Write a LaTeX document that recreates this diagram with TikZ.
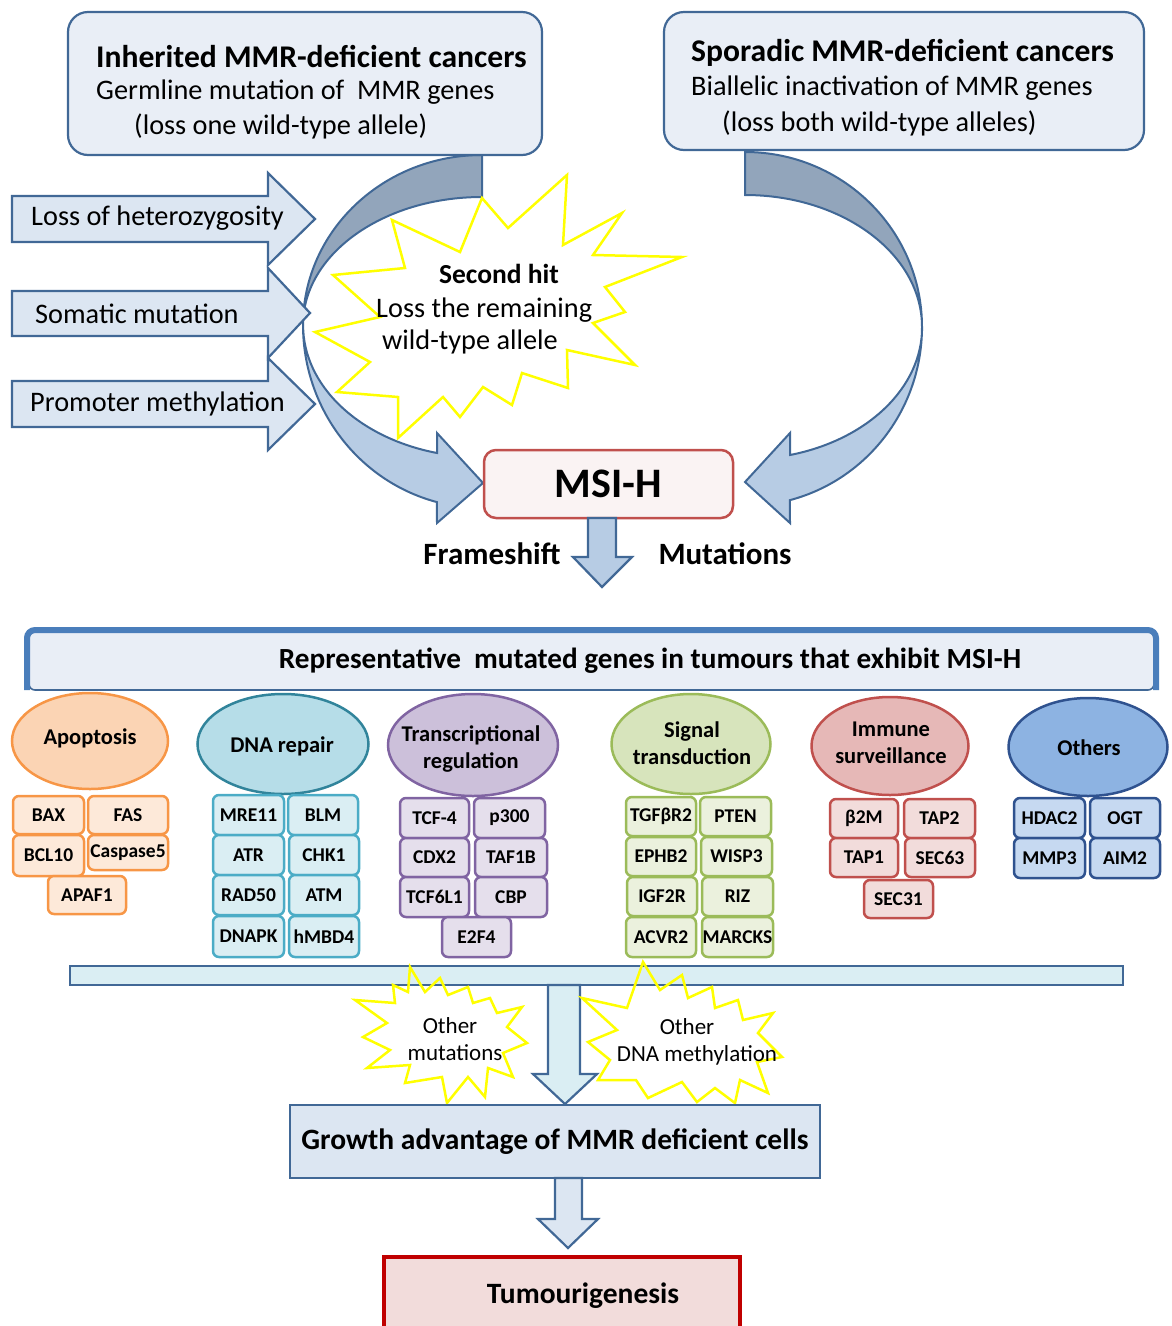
\documentclass[tikz,border=0pt]{standalone}
\usepackage{fontspec}
\setmainfont{Carlito}
\usetikzlibrary{shapes.geometric}

\definecolor{bord}{RGB}{65,104,150}
\definecolor{boxfill}{RGB}{233,238,246}
\definecolor{arrfill}{RGB}{220,230,242}
\definecolor{cdark}{RGB}{146,165,187}
\definecolor{clight}{RGB}{183,204,228}
\definecolor{msifill}{RGB}{250,243,243}
\definecolor{msibord}{RGB}{192,80,77}
\definecolor{bannerblue}{RGB}{74,126,187}
\definecolor{starcol}{RGB}{255,255,0}
\definecolor{barfill}{RGB}{218,238,243}
\definecolor{tumfill}{RGB}{242,220,219}
\definecolor{tumbord}{RGB}{192,0,0}
\definecolor{apoE}{RGB}{251,212,180}\definecolor{apoB}{RGB}{247,150,70}\definecolor{apoF}{RGB}{253,233,217}
\definecolor{dnaE}{RGB}{182,221,232}\definecolor{dnaEB}{RGB}{49,132,155}\definecolor{dnaB}{RGB}{75,172,198}\definecolor{dnaF}{RGB}{218,238,243}
\definecolor{trE}{RGB}{204,192,218}\definecolor{trB}{RGB}{128,100,162}\definecolor{trF}{RGB}{229,223,236}
\definecolor{sigE}{RGB}{215,228,188}\definecolor{sigB}{RGB}{155,187,89}\definecolor{sigF}{RGB}{235,241,221}
\definecolor{imE}{RGB}{230,184,183}\definecolor{imB}{RGB}{192,80,77}\definecolor{imF}{RGB}{242,220,219}
\definecolor{otE}{RGB}{141,179,226}\definecolor{otB}{RGB}{47,82,143}\definecolor{otF}{RGB}{198,217,241}

\newcommand{\gb}[7]{%
  \pgfmathsetmacro{\gbw}{#5-#3}\pgfmathsetmacro{\gbh}{#6-#4}%
  \node[#1, minimum width=\gbw pt, minimum height=\gbh pt] (#2) at ({(#3+#5)/2},{(#4+#6)/2}) {#7};}

\begin{document}
\begin{tikzpicture}[x=1pt,y=-1pt,
  txt/.style={inner sep=0pt, text=black},
  ftitle/.style={font=\fontsize{31.6}{38}\selectfont\bfseries},
  fbody/.style={font=\fontsize{28.3}{34}\selectfont},
  fcat/.style={font=\fontsize{22.5}{27}\selectfont\bfseries, align=center},
  fstar/.style={font=\fontsize{23}{27}\selectfont},
  fbig/.style={font=\fontsize{31}{37}\selectfont\bfseries},
  topbox/.style={draw=bord, fill=boxfill, line width=2.2pt, rounded corners=20pt, inner sep=0pt},
  blockarrow/.style={draw=bord, fill=arrfill, line width=2.2pt, line join=miter},
  curv/.style={draw=bord, line width=2pt, line join=miter},
  starline/.style={draw=starcol, line width=2.5pt, line join=miter},
  gene/.style={rectangle, rounded corners=6pt, line width=2.5pt, inner sep=0pt, text=black, font=\fontsize{19.5}{23}\selectfont\bfseries},
  catell/.style={ellipse, line width=2.5pt, inner sep=0pt},
  gapo/.style={gene, draw=apoB, fill=apoF},
  gdna/.style={gene, draw=dnaB, fill=dnaF},
  gtr/.style={gene, draw=trB, fill=trF},
  gsig/.style={gene, draw=sigB, fill=sigF},
  gim/.style={gene, draw=imB, fill=imF},
  got/.style={gene, draw=otB, fill=otF},
  downarrow/.style={draw=bord, line width=2.2pt, line join=miter}
]
\useasboundingbox (0,0) rectangle (1171,1326);
\clip (0,0) rectangle (1171,1326);

% ---------- curved arrows ----------
\filldraw[curv, fill=cdark] (482,155) arc[start angle=-90, end angle=-180, x radius=179, y radius=170]
  arc[start angle=180, end angle=270, x radius=179, y radius=128] -- cycle;
\filldraw[curv, fill=clight] (303,325) arc[start angle=180, end angle=104.6, x radius=179, y radius=183]
  -- (437,523) -- (483,483) -- (437,433) -- (437,453)
  arc[start angle=104.6, end angle=180, x radius=179, y radius=132] -- cycle;

\filldraw[curv, fill=cdark] (745,152) arc[start angle=-90, end angle=0, x radius=177, y radius=175]
  arc[start angle=0, end angle=-90, x radius=177, y radius=132] -- cycle;
\filldraw[curv, fill=clight] (922,327) arc[start angle=0, end angle=75.3, x radius=177, y radius=179]
  -- (790,523) -- (745,482) -- (790,433) -- (790,455)
  arc[start angle=75.3, end angle=0, x radius=177, y radius=132] -- cycle;

% ---------- left block arrows ----------
\draw[blockarrow] (12,196) -- (268,196) -- (268,173) -- (315,219) -- (268,265) -- (268,242) -- (12,242) -- cycle;
\draw[blockarrow] (12,291) -- (268,291) -- (268,268) -- (310,313) -- (268,358) -- (268,336) -- (12,336) -- cycle;
\draw[blockarrow] (12,381) -- (268,381) -- (268,358) -- (315,404) -- (268,450) -- (268,427) -- (12,427) -- cycle;
\node[txt, fbody, anchor=west] (loh) at (31,218) {Loss of heterozygosity};
\node[txt, fbody, anchor=west] (som) at (35,314) {Somatic mutation};
\node[txt, fbody, anchor=west] (prom) at (30,404) {Promoter methylation};

% ---------- top boxes ----------
\node[topbox, minimum width=474pt, minimum height=143pt] (inhbox) at (305,83.5) {};
\node[txt, ftitle, anchor=west] (inh1) at (96,57) {Inherited MMR-deficient cancers};
\node[txt, fbody, anchor=west] (inh2) at (96,92) {Germline mutation of\ \ MMR genes};
\node[txt, fbody, anchor=west] (inh3) at (134,126) {(loss one wild-type allele)};

\node[topbox, minimum width=480pt, minimum height=138pt] (spobox) at (904,81) {};
\node[txt, ftitle, anchor=west] (spo1) at (691,53) {Sporadic MMR-deficient cancers};
\node[txt, fbody, anchor=west] (spo2) at (691,88) {Biallelic inactivation of MMR genes};
\node[txt, fbody, anchor=west] (spo3) at (722,123) {(loss both wild-type alleles)};

% ---------- second hit star ----------
\draw[starline] (567,175) -- (563,245) -- (622,213) -- (593,255) -- (682,257) -- (605,287) -- (625,312) -- (593,323)
  -- (635,365) -- (567,350) -- (568,388) -- (522,373) -- (512,405) -- (483,387) -- (460,417) -- (443,397)
  -- (398,438) -- (398,397) -- (337,392) -- (370,362) -- (315,332) -- (380,317) -- (333,275) -- (405,268)
  -- (392,220) -- (460,252) -- (482,198) -- (508,228) -- cycle;
\node[txt, font=\fontsize{27.5}{33}\selectfont\bfseries] (sh1) at (499,274) {Second hit};
\node[txt, fbody, anchor=west] (sh2) at (376,310) {Loss the remaining};
\node[txt, fbody, anchor=west] (sh3) at (382,342) {wild-type allele};

% ---------- MSI-H ----------
\node[draw=msibord, fill=msifill, line width=2.5pt, rounded corners=12pt, minimum width=249pt, minimum height=68pt,
  inner sep=0pt, text=black, font=\fontsize{42}{50}\selectfont\bfseries] (msi) at (608.5,484) {MSI-H};
\filldraw[downarrow, fill=clight] (588,518) -- (616,518) -- (616,557) -- (632,557) -- (602,587) -- (573,557) -- (588,557) -- cycle;
\node[txt, fbig] (fs) at (492,554) {Frameshift};
\node[txt, fbig] (mu) at (725,554) {Mutations};

% ---------- banner ----------
\node[draw=bord, fill=boxfill, line width=1.6pt, rounded corners=6pt, minimum width=1125pt, minimum height=58pt, inner sep=0pt] (banner) at (591.5,661) {};
\draw[bannerblue, line width=6pt, rounded corners=8pt] (27,690) -- (27,630) -- (1156,630) -- (1156,690);
\node[txt, font=\fontsize{29.2}{35}\selectfont\bfseries] (bannerT) at (650,661) {Representative\ \ mutated genes in tumours that exhibit MSI-H};

% ---------- categories ----------
\node[catell, draw=apoB, fill=apoE, minimum width=156pt, minimum height=96pt] (apo) at (90,741) {};
\node[catell, draw=dnaEB, fill=dnaE, minimum width=171pt, minimum height=100pt] (dna) at (283,744) {};
\node[catell, draw=trB, fill=trE, minimum width=170pt, minimum height=102pt] (tr) at (473,745) {};
\node[catell, draw=sigB, fill=sigE, minimum width=159pt, minimum height=100pt] (sig) at (691,744) {};
\node[catell, draw=imB, fill=imE, minimum width=157pt, minimum height=98pt] (im) at (890,746) {};
\node[catell, draw=otB, fill=otE, minimum width=159pt, minimum height=98pt] (ot) at (1088,747) {};
\node[txt, fcat] (apoT) at (90,738) {Apoptosis};
\node[txt, fcat] (dnaT) at (282,746) {DNA repair};
\node[txt, fcat] (trT) at (471,749) {Transcriptional\\regulation};
\node[txt, fcat] (sigT) at (692,743) {Signal\\transduction};
\node[txt, fcat] (imT) at (891,743) {Immune\\surveillance};
\node[txt, fcat] (otT) at (1089,748) {Others};

% ---------- gene boxes ----------
\gb{gapo}{bax}{13}{796}{84}{834}{BAX}
\gb{gapo}{fas}{88}{796}{168}{834}{FAS}
\gb{gapo}{bcl}{13}{835}{84}{876}{BCL10}
\gb{gapo}{casp}{88}{835}{168}{870}{Caspase5}
\gb{gapo}{apaf}{48}{876}{126}{914}{APAF1}

\gb{gdna}{mre}{213}{795}{284}{835}{MRE11}
\gb{gdna}{blm}{288}{795}{358}{835}{BLM}
\gb{gdna}{atr}{213}{835}{284}{875}{ATR}
\gb{gdna}{chk}{289}{835}{359}{875}{CHK1}
\gb{gdna}{rad}{213}{875}{284}{915}{RAD50}
\gb{gdna}{atm}{289}{875}{359}{915}{ATM}
\gb{gdna}{dnapk}{213}{916}{284}{957}{DNAPK}
\gb{gdna}{mbd}{289}{916}{359}{957}{hMBD4}

\gb{gtr}{tcf}{400}{798}{469}{838}{TCF-4}
\gb{gtr}{ptre}{474}{798}{545}{838}{p300}
\gb{gtr}{cdx}{400}{838}{469}{877}{CDX2}
\gb{gtr}{taf}{475}{838}{547}{877}{TAF1B}
\gb{gtr}{tcfl}{400}{877}{469}{917}{TCF6L1}
\gb{gtr}{cbp}{475}{877}{547}{917}{CBP}
\gb{gtr}{etf}{442}{917}{511}{957}{E2F4}

\gb{gsig}{tgf}{626}{797}{696}{836}{TGFβR2}
\gb{gsig}{pten}{700}{797}{771}{836}{PTEN}
\gb{gsig}{ephb}{626}{837}{696}{876}{EPHB2}
\gb{gsig}{wisp}{701}{837}{772}{876}{WISP3}
\gb{gsig}{igf}{627}{877}{697}{916}{IGF2R}
\gb{gsig}{riz}{702}{877}{773}{916}{RIZ}
\gb{gsig}{acvr}{626}{917}{696}{957}{ACVR2}
\gb{gsig}{marcks}{702}{917}{773}{957}{MARCKS}

\gb{gim}{btm}{830}{799}{898}{838}{β2M}
\gb{gim}{taptwo}{904}{799}{975}{838}{TAP2}
\gb{gim}{tapone}{830}{838}{898}{877}{TAP1}
\gb{gim}{secsix}{905}{838}{975}{877}{SEC63}
\gb{gim}{secthree}{864}{880}{933}{918}{SEC31}

\gb{got}{hdac}{1014}{798}{1085}{838}{HDAC2}
\gb{got}{ogt}{1090}{798}{1160}{838}{OGT}
\gb{got}{mmp}{1014}{838}{1085}{878}{MMP3}
\gb{got}{aim}{1090}{838}{1160}{878}{AIM2}

% ---------- bar and arrow ----------
\node[draw=bord, fill=barfill, line width=2.2pt, minimum width=1053pt, minimum height=19pt, inner sep=0pt] (bar) at (596.5,975.5) {};
\filldraw[downarrow, fill=barfill] (548,985) -- (580,985) -- (580,1074) -- (597,1074) -- (565,1104) -- (533,1074) -- (548,1074) -- cycle;

% ---------- bottom stars ----------
\draw[starline] (410,967) -- (425,992) -- (440,978) -- (448,995) -- (468,987) -- (473,1003) -- (490,998) -- (497,1013)
  -- (522,1007) -- (507,1027) -- (527,1043) -- (503,1053) -- (513,1077) -- (488,1068) -- (485,1097) -- (468,1077)
  -- (447,1103) -- (442,1077) -- (405,1083) -- (410,1065) -- (367,1068) -- (390,1050) -- (363,1037) -- (387,1023)
  -- (355,1000) -- (395,1003) -- (393,985) -- (408,992) -- cycle;
\draw[starline] (643,962) -- (660,990) -- (682,975) -- (688,998) -- (712,987) -- (715,1008) -- (738,1000) -- (743,1020)
  -- (773,1013) -- (758,1033) -- (782,1057) -- (757,1062) -- (768,1093) -- (740,1080) -- (735,1103) -- (715,1088)
  -- (697,1102) -- (682,1082) -- (648,1098) -- (636,1080) -- (598,1080) -- (610,1060) -- (588,1042) -- (617,1030)
  -- (582,998) -- (627,1008) -- cycle;
\node[txt, fstar] (om1) at (450,1026) {Other};
\node[txt, fstar] (om2) at (455,1053) {mutations};
\node[txt, fstar] (dm1) at (687,1027) {Other};
\node[txt, fstar] (dm2) at (697,1055) {DNA methylation};

% ---------- growth and tumourigenesis ----------
\node[draw=bord, fill=arrfill, line width=2.5pt, minimum width=530pt, minimum height=73pt, inner sep=0pt,
  text=black, font=\fontsize{29.5}{35}\selectfont\bfseries] (growth) at (555,1141.5) {Growth advantage of MMR deficient cells};
\filldraw[downarrow, fill=arrfill] (555,1178) -- (582,1178) -- (582,1219) -- (598,1219) -- (568,1248) -- (538,1219) -- (555,1219) -- cycle;
\node[draw=tumbord, fill=tumfill, line width=3.5pt, minimum width=356pt, minimum height=90pt, inner sep=0pt] (tum) at (562,1302) {};
\node[txt, font=\fontsize{29.5}{35}\selectfont\bfseries] (tumT) at (583,1296) {Tumourigenesis};
\end{tikzpicture}
\end{document}
